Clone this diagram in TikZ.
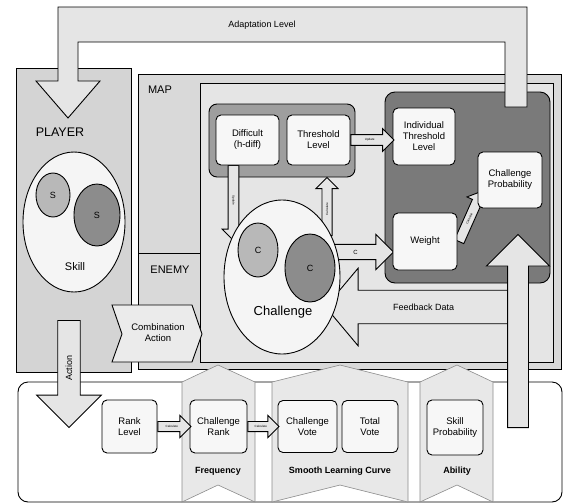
\documentclass[tikz,border=0pt]{standalone}
\usepackage{fontspec}
\setmainfont{Liberation Sans}
\usetikzlibrary{shapes.geometric, shapes.arrows, calc}

\begin{document}
\begin{tikzpicture}[x=1pt, y=-1pt, line width=0.9pt,
  panel/.style={draw, fill=black!15},
  box/.style={rectangle, draw, rounded corners=5pt, fill=black!3, align=center,
    font=\fontsize{9.5}{11}\selectfont, inner sep=1pt},
  blob/.style={ellipse, draw, inner sep=0pt},
  tag/.style={font=\fontsize{11}{13}\selectfont},
  barrow/.style={single arrow, draw, fill=black!10, anchor=tail, inner sep=3.5pt,
    single arrow head extend=6pt, font=\fontsize{3}{3}\selectfont},
  bigarrow/.style={single arrow, draw, fill=black!10, anchor=tail,
    font=\fontsize{9}{10}\selectfont},
  column/.style={draw=black!45, fill=black!9, line width=0.6pt},
  coltag/.style={font=\bfseries\fontsize{9}{10}\selectfont}]

\useasboundingbox (0,0) rectangle (563,504);

% panels
\draw[panel, fill=black!17] (16,68) rectangle (131,372);
\draw[panel] (138,74) rectangle (561,369);
\draw[panel, fill=black!10] (200,83) rectangle (553,362);
\draw (138,253) -- (200,253);
\node[font=\fontsize{12.5}{14}\selectfont] (player) at (60,132) {PLAYER};
\node[tag] (map) at (160,90) {MAP};
\node[tag] (enemy) at (170,270) {ENEMY};

% player skills
\node[blob, fill=black!4, minimum width=102pt, minimum height=140pt] (skill) at (74,222) {};
\node[blob, fill=black!28, minimum width=34pt, minimum height=44pt, font=\small] (s1) at (53,195) {S};
\node[blob, fill=black!45, minimum width=46pt, minimum height=62pt, font=\small] (s2) at (97,215) {S};
\node[tag] (skilltxt) at (75,267) {Skill};

% containers
\draw[fill=black!38, rounded corners=8pt] (209,104) rectangle (355,177);
\draw[fill=black!52, rounded corners=10pt] (385,92) rectangle (550,283);

% feedback
\node[bigarrow, shape border rotate=180, minimum height=182pt, inner xsep=2pt,
  inner ysep=13pt, single arrow head extend=22pt, single arrow tip angle=100]
  (feedback) at (508,307) {Feedback Data};

% arrows around challenge
\node[barrow, rotate=-90, minimum height=75pt] (dn) at (233.5,165) {Update};
\node[barrow, rotate=90, minimum height=58pt] (upth) at (327,236) {Calculate};
\node[barrow, minimum height=68pt, inner sep=5pt, single arrow head extend=10pt,
  font=\fontsize{6}{6}\selectfont] (c2w) at (325,252) {C};
\node[barrow, rotate=66, minimum height=55pt] (w2p) at (459,242) {Calculate};

% challenge
\node[blob, fill=black!4, minimum width=116pt, minimum height=154pt] (chal) at (282,277) {};
\node[blob, fill=black!28, minimum width=40pt, minimum height=54pt, font=\small] (c1) at (258,250) {C};
\node[blob, fill=black!45, minimum width=50pt, minimum height=68pt, font=\small] (c2) at (310,268) {C};
\node[font=\fontsize{13}{15}\selectfont] (chaltxt) at (283,312) {Challenge};

% boxes
\node[box, minimum width=63pt, minimum height=50pt] (diff) at (247.5,140) {Difficult\\(h-diff)};
\node[box, minimum width=63pt, minimum height=50pt] (thr) at (318.5,140) {Threshold\\Level};
\node[box, minimum width=62pt, minimum height=57pt] (ind) at (424,136.5) {Individual\\Threshold\\Level};
\node[box, minimum width=64pt, minimum height=56pt] (prob) at (510,180) {Challenge\\Probability};
\node[box, minimum width=64pt, minimum height=57pt] (wgt) at (425,241.5) {Weight};
\node[barrow, minimum height=43pt] (upd) at (thr.east) {Update};

% bottom panel
\draw[fill=white, rounded corners=10pt] (18,382) rectangle (562,502);
\draw[column] (182,382) -- (218,365) -- (255,382) -- (255,502) -- (218,485) -- (182,502) -- cycle;
\draw[column] (272,382) -- (340,365) -- (408,382) -- (408,502) -- (340,485) -- (272,502) -- cycle;
\draw[column] (420,382) -- (457,365) -- (493,382) -- (493,502) -- (457,485) -- (420,502) -- cycle;
\node[coltag] (freq) at (218,471) {Frequency};
\node[coltag] (slc) at (340,471) {Smooth Learning Curve};
\node[coltag] (abl) at (457,471) {Ability};

\node[box, minimum width=55pt, minimum height=53pt] (rank) at (129.5,426.5) {Rank\\Level};
\node[box, minimum width=57pt, minimum height=53pt] (crank) at (218.5,426.5) {Challenge\\Rank};
\node[box, minimum width=59pt, minimum height=52pt] (cvote) at (307.5,426.5) {Challenge\\Vote};
\node[box, minimum width=56pt, minimum height=52pt] (tvote) at (370,426.5) {Total\\Vote};
\node[box, minimum width=56pt, minimum height=55pt] (sprob) at (455,427.5) {Skill\\Probability};
\node[barrow, minimum height=33pt] (r2c) at (rank.east) {Calculate};
\node[barrow, minimum height=31pt] (c2v) at (crank.east) {Calculate};

% big arrows
\node[bigarrow, rotate=90, minimum height=193pt, inner sep=10pt,
  single arrow head extend=21pt] (up) at (518,428) {};
\node[bigarrow, rotate=90, shape border rotate=180, minimum height=107pt,
  inner sep=7.5pt, single arrow head extend=21pt] (action) at (69,320) {Action};
\draw[fill=black!10] (58,81) -- (58,7) -- (527,7) -- (527,107) -- (505,107) -- (505,42)
  -- (78,42) -- (78,81) -- (100,81) -- (68,118) -- (36,81) -- cycle;
\node[font=\fontsize{9}{10}\selectfont] (adapt) at (262,25) {Adaptation Level};

% combination
\draw[fill=black!8] (112,305) -- (192,305) -- (202,334) -- (192,362) -- (112,362) -- (122,334) -- cycle;
\node[align=center, font=\fontsize{9.5}{11}\selectfont] (comb) at (158,333) {Combination\\Action};
\end{tikzpicture}
\end{document}
